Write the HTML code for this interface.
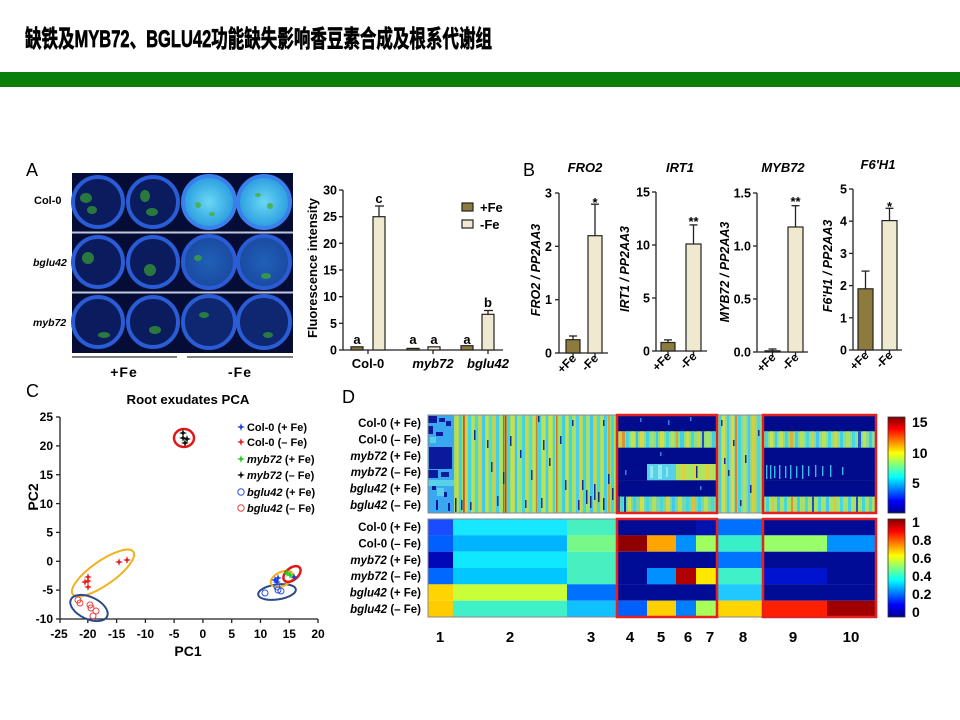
<!DOCTYPE html>
<html><head><meta charset="utf-8"><style>
html,body{margin:0;padding:0;background:#fff;}
body{width:960px;height:720px;overflow:hidden;}
svg{display:block;}
text{font-family:"Liberation Sans","Noto Sans CJK SC",sans-serif;}
.b{font-weight:bold;}
.bi{font-weight:bold;font-style:italic;}
</style></head><body>
<svg width="960" height="720" viewBox="0 0 960 720" xmlns="http://www.w3.org/2000/svg">
<defs>
<linearGradient id="jet" x1="0" y1="1" x2="0" y2="0">
<stop offset="0" stop-color="#00008f"/><stop offset="0.125" stop-color="#0000ff"/><stop offset="0.375" stop-color="#00ffff"/><stop offset="0.625" stop-color="#ffff00"/><stop offset="0.875" stop-color="#ff0000"/><stop offset="1" stop-color="#800000"/>
</linearGradient>
<radialGradient id="bright" cx="0.5" cy="0.5" r="0.5"><stop offset="0" stop-color="#6ad8f4"/><stop offset="1" stop-color="#2a9ce0"/></radialGradient>
<radialGradient id="mid" cx="0.5" cy="0.5" r="0.5"><stop offset="0" stop-color="#2060b8"/><stop offset="1" stop-color="#1a4aa0"/></radialGradient>
</defs>
<rect width="960" height="720" fill="#fff"/>
<!-- Title -->
<text x="25" y="47" font-size="24" font-weight="bold" stroke="#000" stroke-width="0.7" textLength="467" lengthAdjust="spacingAndGlyphs" fill="#000">缺铁及MYB72、BGLU42功能缺失影响香豆素合成及根系代谢组</text>
<rect x="0" y="72" width="960" height="15" fill="#0b7f0b"/>

<!-- Panel A photo -->
<text x="26" y="176" font-size="18" fill="#000">A</text>
<rect x="72" y="173" width="221" height="180" fill="#050d36"/>
<g stroke="#2a5cd6" stroke-width="4">
<circle cx="98" cy="202" r="25" fill="#0b1c5e"/><circle cx="153" cy="202" r="25" fill="#0b1c5e"/>
<circle cx="209" cy="202" r="26" fill="url(#bright)" stroke="#3a80ec"/><circle cx="264" cy="202" r="26" fill="url(#bright)" stroke="#3a80ec"/>
<circle cx="98" cy="262" r="25" fill="#0b1c5e"/><circle cx="153" cy="262" r="25" fill="#0b1c5e"/>
<circle cx="209" cy="262" r="26" fill="url(#mid)"/><circle cx="264" cy="262" r="26" fill="url(#mid)"/>
<circle cx="98" cy="322" r="25" fill="#0b1c5e"/><circle cx="153" cy="322" r="25" fill="#0b1c5e"/>
<circle cx="209" cy="322" r="26" fill="#0f2670"/><circle cx="264" cy="322" r="26" fill="#0f2670"/>
</g>
<g fill="#2f8a3a" opacity="0.85">
<ellipse cx="86" cy="198" rx="6" ry="5"/><ellipse cx="92" cy="210" rx="5" ry="4"/><ellipse cx="145" cy="196" rx="5" ry="6"/><ellipse cx="152" cy="212" rx="6" ry="4"/>
<ellipse cx="198" cy="205" rx="3" ry="3" fill="#4ab040"/><ellipse cx="212" cy="214" rx="3" ry="2" fill="#4ab040"/><ellipse cx="258" cy="195" rx="3" ry="2" fill="#4ab040"/><ellipse cx="270" cy="206" rx="3" ry="3" fill="#4ab040"/>
<ellipse cx="88" cy="258" rx="6" ry="6"/><ellipse cx="150" cy="270" rx="6" ry="6"/><ellipse cx="198" cy="258" rx="4" ry="3" fill="#3aa040"/><ellipse cx="266" cy="276" rx="5" ry="3" fill="#3aa040"/>
<ellipse cx="104" cy="335" rx="6" ry="3"/><ellipse cx="155" cy="330" rx="6" ry="4"/><ellipse cx="204" cy="315" rx="5" ry="3"/><ellipse cx="268" cy="335" rx="5" ry="3"/>
</g>
<rect x="72" y="231.5" width="221" height="2" fill="#c0c8d8"/>
<rect x="72" y="291.5" width="221" height="2" fill="#c0c8d8"/>
<text x="34" y="204" class="b" font-size="11">Col-0</text>
<text x="33" y="266" class="bi" font-size="10.5">bglu42</text>
<text x="33" y="326" class="bi" font-size="10.5">myb72</text>
<line x1="72" y1="357" x2="177" y2="357" stroke="#555" stroke-width="1.5"/>
<line x1="187" y1="357" x2="293" y2="357" stroke="#555" stroke-width="1.5"/>
<text x="124" y="377" class="b" font-size="14" text-anchor="middle" letter-spacing="1">+Fe</text>
<text x="240" y="377" class="b" font-size="14" text-anchor="middle" letter-spacing="1">-Fe</text>

<!-- Panel A bar chart -->
<g stroke="#222" stroke-width="1.3" fill="none">
<line x1="343" y1="190" x2="343" y2="350"/><line x1="343" y1="350" x2="503" y2="350"/>
<line x1="339" y1="190" x2="343" y2="190"/><line x1="339" y1="216.7" x2="343" y2="216.7"/><line x1="339" y1="243.3" x2="343" y2="243.3"/><line x1="339" y1="270" x2="343" y2="270"/><line x1="339" y1="296.7" x2="343" y2="296.7"/><line x1="339" y1="323.3" x2="343" y2="323.3"/><line x1="339" y1="350" x2="343" y2="350"/>
<line x1="368" y1="350" x2="368" y2="354"/><line x1="433" y1="350" x2="433" y2="354"/><line x1="488" y1="350" x2="488" y2="354"/>
<line x1="379" y1="216.7" x2="379" y2="206"/><line x1="375" y1="206" x2="384" y2="206"/>
<line x1="488" y1="314.3" x2="488" y2="310.5"/><line x1="484" y1="310.5" x2="493" y2="310.5"/>
</g>
<g stroke="#222" stroke-width="1.2">
<rect x="351" y="346.8" width="12" height="3.2" fill="#8c7b3c"/>
<rect x="373" y="216.7" width="12" height="133.3" fill="#efe9cf"/>
<rect x="407" y="348.4" width="12" height="1.6" fill="#8c7b3c"/>
<rect x="428" y="346.8" width="12" height="3.2" fill="#efe9cf"/>
<rect x="461" y="345.7" width="12" height="4.3" fill="#8c7b3c"/>
<rect x="482" y="314.3" width="12" height="35.7" fill="#efe9cf"/>
<rect x="462" y="203" width="11" height="8" fill="#8c7b3c"/>
<rect x="462" y="220" width="11" height="8" fill="#efe9cf"/>
</g>
<g class="b" font-size="12.5" text-anchor="end">
<text x="337" y="194.5">30</text><text x="337" y="221.2">25</text><text x="337" y="247.8">20</text><text x="337" y="274.5">15</text><text x="337" y="301.2">10</text><text x="337" y="327.8">5</text><text x="337" y="354.5">0</text>
</g>
<text transform="translate(317,268) rotate(-90)" class="b" font-size="13" text-anchor="middle" textLength="140" lengthAdjust="spacingAndGlyphs">Fluorescence intensity</text>
<g class="b" font-size="13" text-anchor="middle">
<text x="357" y="344">a</text><text x="379" y="203">c</text><text x="413" y="344">a</text><text x="434" y="344">a</text><text x="467" y="344">a</text><text x="488" y="307">b</text>
<text x="368" y="368">Col-0</text>
</g>
<text x="433" y="368" class="bi" font-size="13" text-anchor="middle">myb72</text>
<text x="488" y="368" class="bi" font-size="13" text-anchor="middle">bglu42</text>
<text x="480" y="212" class="b" font-size="13">+Fe</text>
<text x="480" y="229" class="b" font-size="13">-Fe</text>

<!-- Panel B -->
<text x="523" y="176" font-size="18">B</text>
<g class="bi" font-size="13" text-anchor="middle">
<text x="585" y="172">FRO2</text><text x="680" y="172">IRT1</text><text x="783" y="172">MYB72</text><text x="878" y="169">F6'H1</text>
</g>
<g class="bi" font-size="12.5" text-anchor="middle">
<text transform="translate(540,270) rotate(-90)">FRO2 / PP2AA3</text>
<text transform="translate(629,269) rotate(-90)">IRT1 / PP2AA3</text>
<text transform="translate(729,272) rotate(-90)">MYB72 / PP2AA3</text>
<text transform="translate(832,266) rotate(-90)">F6'H1 / PP2AA3</text>
</g>
<g stroke="#222" stroke-width="1.3" fill="none">
<line x1="559" y1="193" x2="559" y2="353"/><line x1="559" y1="353" x2="608" y2="353"/>
<line x1="555" y1="193" x2="559" y2="193"/><line x1="555" y1="246.3" x2="559" y2="246.3"/><line x1="555" y1="299.7" x2="559" y2="299.7"/><line x1="555" y1="353" x2="559" y2="353"/>
<line x1="573" y1="353" x2="573" y2="357"/><line x1="595" y1="353" x2="595" y2="357"/>
<line x1="573" y1="339.7" x2="573" y2="336"/><line x1="569" y1="336" x2="577" y2="336"/>
<line x1="595" y1="235.7" x2="595" y2="204.2"/><line x1="591" y1="204.2" x2="599" y2="204.2"/>
<line x1="656" y1="192" x2="656" y2="351"/><line x1="656" y1="351" x2="707" y2="351"/>
<line x1="652" y1="192" x2="656" y2="192"/><line x1="652" y1="245" x2="656" y2="245"/><line x1="652" y1="298" x2="656" y2="298"/><line x1="652" y1="351" x2="656" y2="351"/>
<line x1="668" y1="351" x2="668" y2="355"/><line x1="693.5" y1="351" x2="693.5" y2="355"/>
<line x1="668" y1="342.5" x2="668" y2="339.9"/><line x1="664" y1="339.9" x2="672" y2="339.9"/>
<line x1="693.5" y1="244" x2="693.5" y2="224.9"/><line x1="689.5" y1="224.9" x2="697.5" y2="224.9"/>
<line x1="757" y1="193" x2="757" y2="352"/><line x1="757" y1="352" x2="808" y2="352"/>
<line x1="753" y1="193" x2="757" y2="193"/><line x1="753" y1="246" x2="757" y2="246"/><line x1="753" y1="299" x2="757" y2="299"/><line x1="753" y1="352" x2="757" y2="352"/>
<line x1="772.5" y1="352" x2="772.5" y2="356"/><line x1="795.5" y1="352" x2="795.5" y2="356"/>
<line x1="768.5" y1="349" x2="776.5" y2="349"/><line x1="772.5" y1="349" x2="772.5" y2="351"/>
<line x1="795.5" y1="227" x2="795.5" y2="205.7"/><line x1="791.5" y1="205.7" x2="799.5" y2="205.7"/>
<line x1="853" y1="189" x2="853" y2="350"/><line x1="853" y1="350" x2="902" y2="350"/>
<line x1="849" y1="189" x2="853" y2="189"/><line x1="849" y1="221.2" x2="853" y2="221.2"/><line x1="849" y1="253.4" x2="853" y2="253.4"/><line x1="849" y1="285.6" x2="853" y2="285.6"/><line x1="849" y1="317.8" x2="853" y2="317.8"/><line x1="849" y1="350" x2="853" y2="350"/>
<line x1="865.5" y1="350" x2="865.5" y2="354"/><line x1="889.5" y1="350" x2="889.5" y2="354"/>
<line x1="865.5" y1="288.8" x2="865.5" y2="271.1"/><line x1="861.5" y1="271.1" x2="869.5" y2="271.1"/>
<line x1="889.5" y1="220.6" x2="889.5" y2="208.3"/><line x1="885.5" y1="208.3" x2="893.5" y2="208.3"/>
</g>
<g stroke="#222" stroke-width="1.2">
<rect x="566" y="339.7" width="14" height="13.3" fill="#8c7b3c"/>
<rect x="588" y="235.7" width="14" height="117.3" fill="#efe9cf"/>
<rect x="661" y="342.5" width="14" height="8.5" fill="#8c7b3c"/>
<rect x="686" y="244" width="15" height="107" fill="#efe9cf"/>
<rect x="765" y="350.8" width="15" height="1.2" fill="#8c7b3c"/>
<rect x="788" y="227" width="15" height="125" fill="#efe9cf"/>
<rect x="858" y="288.8" width="15" height="61.2" fill="#8c7b3c"/>
<rect x="882" y="220.6" width="15" height="129.4" fill="#efe9cf"/>
</g>
<g class="b" font-size="12.5" text-anchor="end">
<text x="552" y="197.5">3</text><text x="552" y="250.8">2</text><text x="552" y="304.2">1</text><text x="552" y="357.5">0</text>
<text x="650" y="196.5">15</text><text x="650" y="249.5">10</text><text x="650" y="302.5">5</text><text x="650" y="355.5">0</text>
<text x="751" y="197.5">1.5</text><text x="751" y="250.5">1.0</text><text x="751" y="303.5">0.5</text><text x="751" y="356.5">0.0</text>
<text x="847" y="193.5">5</text><text x="847" y="225.7">4</text><text x="847" y="257.9">3</text><text x="847" y="290.1">2</text><text x="847" y="322.3">1</text><text x="847" y="354.5">0</text>
</g>
<g class="b" font-size="13" text-anchor="middle">
<text x="595" y="207">*</text><text x="693.5" y="226">**</text><text x="795.5" y="206">**</text><text x="889.5" y="211">*</text>
</g>
<g class="b" font-size="12" text-anchor="end">
<text transform="translate(577,359) rotate(-45)">+Fe</text><text transform="translate(599,359) rotate(-45)">-Fe</text>
<text transform="translate(672,357) rotate(-45)">+Fe</text><text transform="translate(697.5,357) rotate(-45)">-Fe</text>
<text transform="translate(776.5,358) rotate(-45)">+Fe</text><text transform="translate(799.5,358) rotate(-45)">-Fe</text>
<text transform="translate(869.5,356) rotate(-45)">+Fe</text><text transform="translate(893.5,356) rotate(-45)">-Fe</text>
</g>

<!-- Panel C -->
<text x="26" y="397" font-size="18">C</text>
<text x="188" y="404" class="b" font-size="13" text-anchor="middle" textLength="123" lengthAdjust="spacingAndGlyphs">Root exudates PCA</text>
<g stroke="#222" stroke-width="1.3" fill="none">
<line x1="60" y1="417" x2="60" y2="619"/><line x1="60" y1="619" x2="318" y2="619"/>
<line x1="56" y1="417" x2="60" y2="417"/><line x1="56" y1="445.9" x2="60" y2="445.9"/><line x1="56" y1="474.7" x2="60" y2="474.7"/><line x1="56" y1="503.6" x2="60" y2="503.6"/><line x1="56" y1="532.4" x2="60" y2="532.4"/><line x1="56" y1="561.3" x2="60" y2="561.3"/><line x1="56" y1="590.1" x2="60" y2="590.1"/><line x1="56" y1="619" x2="60" y2="619"/>
<line x1="60" y1="619" x2="60" y2="623"/><line x1="87.8" y1="619" x2="87.8" y2="623"/><line x1="116.6" y1="619" x2="116.6" y2="623"/><line x1="145.4" y1="619" x2="145.4" y2="623"/><line x1="174.1" y1="619" x2="174.1" y2="623"/><line x1="202.9" y1="619" x2="202.9" y2="623"/><line x1="231.7" y1="619" x2="231.7" y2="623"/><line x1="260.5" y1="619" x2="260.5" y2="623"/><line x1="289.3" y1="619" x2="289.3" y2="623"/><line x1="318" y1="619" x2="318" y2="623"/>
</g>
<g class="b" font-size="12" text-anchor="end">
<text x="53" y="421">25</text><text x="53" y="450">20</text><text x="53" y="479">15</text><text x="53" y="508">10</text><text x="53" y="536.5">5</text><text x="53" y="565.5">0</text><text x="53" y="594">-5</text><text x="53" y="623">-10</text>
</g>
<g class="b" font-size="12" text-anchor="middle">
<text x="59" y="638">-25</text><text x="87.8" y="638">-20</text><text x="116.6" y="638">-15</text><text x="145.4" y="638">-10</text><text x="174.1" y="638">-5</text><text x="202.9" y="638">0</text><text x="231.7" y="638">5</text><text x="260.5" y="638">10</text><text x="289.3" y="638">15</text><text x="318" y="638">20</text>
</g>
<text x="188" y="656" class="b" font-size="14" text-anchor="middle">PC1</text>
<text transform="translate(38,497) rotate(-90)" class="b" font-size="14" text-anchor="middle">PC2</text>
<g fill="none">
<ellipse cx="184" cy="438" rx="10" ry="9" stroke="#e01818" stroke-width="2.5"/>
<ellipse cx="103" cy="573" rx="37" ry="12" transform="rotate(-35 103 573)" stroke="#f2b01c" stroke-width="2"/>
<ellipse cx="89" cy="608" rx="20" ry="11" transform="rotate(25 89 608)" stroke="#2a4a8c" stroke-width="2"/>
<ellipse cx="277" cy="592" rx="19" ry="7.5" transform="rotate(-8 277 592)" stroke="#2a4a8c" stroke-width="2"/>
<ellipse cx="282" cy="579" rx="12" ry="7" transform="rotate(-25 282 579)" stroke="#f2b01c" stroke-width="2"/>
<ellipse cx="292" cy="574" rx="10" ry="6" transform="rotate(-40 292 574)" stroke="#e01818" stroke-width="2.5"/>
</g>
<g fill="#111">
<path d="M179,433 l3,-1 l1,-3 l1,3 l3,1 l-3,1 l-1,3 l-1,-3z"/><path d="M179,438 l3,-1 l1,-3 l1,3 l3,1 l-3,1 l-1,3 l-1,-3z"/><path d="M183,439 l3,-1 l1,-3 l1,3 l3,1 l-3,1 l-1,3 l-1,-3z"/><path d="M181,443 l3,-1 l1,-3 l1,3 l3,1 l-3,1 l-1,3 l-1,-3z"/>
</g>
<g fill="#e82020">
<path d="M84,577 l3,-1 l1,-3 l1,3 l3,1 l-3,1 l-1,3 l-1,-3z"/><path d="M84,581 l3,-1 l1,-3 l1,3 l3,1 l-3,1 l-1,3 l-1,-3z"/><path d="M81,582 l3,-1 l1,-3 l1,3 l3,1 l-3,1 l-1,3 l-1,-3z"/><path d="M84,587 l3,-1 l1,-3 l1,3 l3,1 l-3,1 l-1,3 l-1,-3z"/><path d="M115,562 l3,-1 l1,-3 l1,3 l3,1 l-3,1 l-1,3 l-1,-3z"/><path d="M123,560 l3,-1 l1,-3 l1,3 l3,1 l-3,1 l-1,3 l-1,-3z"/>
</g>
<g fill="none" stroke="#e84040" stroke-width="1">
<circle cx="78" cy="600" r="3"/><circle cx="80" cy="603" r="3"/><circle cx="90" cy="605" r="3"/><circle cx="91" cy="608" r="3"/><circle cx="96" cy="611" r="3"/><circle cx="93" cy="616" r="3"/>
</g>
<g fill="none" stroke="#3050e0" stroke-width="1">
<circle cx="265" cy="593" r="3"/><circle cx="277" cy="587" r="3"/><circle cx="278" cy="590" r="3"/><circle cx="281" cy="591" r="3"/>
</g>
<g fill="#2040e0">
<path d="M271,580 l3,-1 l1,-3 l1,3 l3,1 l-3,1 l-1,3 l-1,-3z"/><path d="M274,578 l3,-1 l1,-3 l1,3 l3,1 l-3,1 l-1,3 l-1,-3z"/><path d="M273,582 l3,-1 l1,-3 l1,3 l3,1 l-3,1 l-1,3 l-1,-3z"/><path d="M290,577 l3,-1 l1,-3 l1,3 l3,1 l-3,1 l-1,3 l-1,-3z"/>
</g>
<g fill="#20d020">
<path d="M283,573 l3,-1 l1,-3 l1,3 l3,1 l-3,1 l-1,3 l-1,-3z"/><path d="M286,575 l3,-1 l1,-3 l1,3 l3,1 l-3,1 l-1,3 l-1,-3z"/>
</g>
<path d="M237,427 l3,-1 l1,-3 l1,3 l3,1 l-3,1 l-1,3 l-1,-3z" fill="#2040e0"/>
<path d="M237,442 l3,-1 l1,-3 l1,3 l3,1 l-3,1 l-1,3 l-1,-3z" fill="#e82020"/>
<path d="M237,459 l3,-1 l1,-3 l1,3 l3,1 l-3,1 l-1,3 l-1,-3z" fill="#20d020"/>
<path d="M237,475 l3,-1 l1,-3 l1,3 l3,1 l-3,1 l-1,3 l-1,-3z" fill="#111"/>
<circle cx="241" cy="492" r="3.2" fill="none" stroke="#3050e0" stroke-width="1"/>
<circle cx="241" cy="508" r="3.2" fill="none" stroke="#e84040" stroke-width="1"/>
<g font-size="11" class="b">
<text x="247" y="431" textLength="60" lengthAdjust="spacingAndGlyphs">Col-0 (+ Fe)</text>
<text x="247" y="446" textLength="60" lengthAdjust="spacingAndGlyphs">Col-0 (– Fe)</text>
<text x="247" y="463"><tspan font-style="italic">myb72</tspan> (+ Fe)</text>
<text x="247" y="479"><tspan font-style="italic">myb72</tspan> (– Fe)</text>
<text x="247" y="496"><tspan font-style="italic">bglu42</tspan> (+ Fe)</text>
<text x="247" y="512"><tspan font-style="italic">bglu42</tspan> (– Fe)</text>
</g>

<!-- Panel D -->
<text x="342" y="403" font-size="18">D</text>
<g font-size="11.5" class="b" text-anchor="end">
<text x="421" y="427.2">Col-0 (+ Fe)</text>
<text x="421" y="443.5">Col-0 (– Fe)</text>
<text x="421" y="459.8"><tspan font-style="italic">myb72</tspan> (+ Fe)</text>
<text x="421" y="476.2"><tspan font-style="italic">myb72</tspan> (– Fe)</text>
<text x="421" y="492.5"><tspan font-style="italic">bglu42</tspan> (+ Fe)</text>
<text x="421" y="508.8"><tspan font-style="italic">bglu42</tspan> (– Fe)</text>
<text x="421" y="531.2">Col-0 (+ Fe)</text>
<text x="421" y="547.5">Col-0 (– Fe)</text>
<text x="421" y="563.8"><tspan font-style="italic">myb72</tspan> (+ Fe)</text>
<text x="421" y="580.2"><tspan font-style="italic">myb72</tspan> (– Fe)</text>
<text x="421" y="596.5"><tspan font-style="italic">bglu42</tspan> (+ Fe)</text>
<text x="421" y="612.8"><tspan font-style="italic">bglu42</tspan> (– Fe)</text>
</g>

<!-- top heatmap -->
<rect x="428" y="415" width="448" height="98" fill="#8fe08c"/>
<rect x="428" y="415" width="26" height="98" fill="#3aa8f0"/>
<g fill="#0a1a9a">
<rect x="428" y="416" width="9" height="7"/><rect x="439" y="418" width="6" height="4"/><rect x="446" y="421" width="5" height="5"/>
<rect x="428" y="426" width="5" height="8"/><rect x="436" y="432" width="7" height="4"/>
<rect x="429" y="447" width="23" height="22"/><rect x="428" y="470" width="10" height="8"/><rect x="441" y="472" width="8" height="5"/>
<rect x="432" y="486" width="4" height="4"/><rect x="444" y="492" width="3" height="5"/><rect x="436" y="500" width="2" height="10"/><rect x="448" y="503" width="2" height="8"/>
</g>
<g fill="#58d0e8"><rect x="428" y="480" width="26" height="6"/><rect x="437" y="488" width="7" height="8"/><rect x="430" y="437" width="6" height="6"/></g>
<rect x="454" y="415" width="163" height="98" fill="#a6dc6a"/>
<g>
<rect x="456" y="415" width="2" height="98" fill="#c8d848"/><rect x="459" y="415" width="3" height="98" fill="#48d0e0"/><rect x="463" y="415" width="1.8" height="98" fill="#d85018"/>
<rect x="465" y="415" width="2.5" height="98" fill="#d0d048"/><rect x="468" y="415" width="3" height="98" fill="#40d8e0"/><rect x="472" y="415" width="2" height="98" fill="#b8e058"/>
<rect x="475" y="415" width="3" height="98" fill="#50d8d0"/><rect x="479" y="415" width="2" height="98" fill="#d8d040"/><rect x="482" y="415" width="3" height="98" fill="#40c8f0"/>
<rect x="486" y="415" width="2" height="98" fill="#c0e050"/><rect x="489" y="415" width="3" height="98" fill="#48e0d8"/><rect x="493" y="415" width="2" height="98" fill="#d8c840"/>
<rect x="496" y="415" width="3" height="98" fill="#40d0e8"/><rect x="500" y="415" width="2" height="98" fill="#b0e060"/><rect x="503" y="415" width="1.5" height="98" fill="#d06020"/>
<rect x="505" y="415" width="1.5" height="98" fill="#c84018"/><rect x="507" y="415" width="3" height="98" fill="#40d8e0"/><rect x="511" y="415" width="3" height="98" fill="#d0dc48"/>
<rect x="515" y="415" width="2" height="98" fill="#40c8f0"/><rect x="518" y="415" width="3" height="98" fill="#a0e070"/><rect x="522" y="415" width="3" height="98" fill="#40d8e0"/>
<rect x="526" y="415" width="2" height="98" fill="#d8d040"/><rect x="529" y="415" width="3" height="98" fill="#48e0e0"/><rect x="533" y="415" width="2" height="98" fill="#c8e050"/>
<rect x="536" y="415" width="1.5" height="98" fill="#d08030"/><rect x="538" y="415" width="3" height="98" fill="#40d8e0"/><rect x="542" y="415" width="3" height="98" fill="#c0e050"/>
<rect x="546" y="415" width="2" height="98" fill="#40d0f0"/><rect x="549" y="415" width="3" height="98" fill="#d0e040"/><rect x="553" y="415" width="2" height="98" fill="#40e0d0"/>
<rect x="556" y="415" width="1.5" height="98" fill="#e07020"/><rect x="558" y="415" width="3" height="98" fill="#a0e070"/><rect x="562" y="415" width="3" height="98" fill="#40d0e0"/>
<rect x="566" y="415" width="2" height="98" fill="#c8e050"/><rect x="569" y="415" width="3" height="98" fill="#40d8e0"/><rect x="573" y="415" width="2" height="98" fill="#b0e060"/>
<rect x="576" y="415" width="3" height="98" fill="#48d0f0"/><rect x="580" y="415" width="2" height="98" fill="#d8d048"/><rect x="583" y="415" width="3" height="98" fill="#40d8e0"/>
<rect x="587" y="415" width="2" height="98" fill="#a8e070"/><rect x="590" y="415" width="3" height="98" fill="#40c8f0"/><rect x="594" y="415" width="2" height="98" fill="#d0d040"/>
<rect x="597" y="415" width="3" height="98" fill="#48d8e0"/><rect x="601" y="415" width="2" height="98" fill="#c0e050"/><rect x="604" y="415" width="3" height="98" fill="#40d0e8"/>
<rect x="608" y="415" width="2" height="98" fill="#e0a030"/><rect x="611" y="415" width="3" height="98" fill="#40d8e0"/><rect x="614" y="415" width="2" height="98" fill="#b0e060"/>
</g>
<g fill="#1a2a8a">
<rect x="474" y="430" width="1.5" height="10"/><rect x="487" y="440" width="1.5" height="8"/><rect x="491" y="462" width="1.5" height="10"/><rect x="503" y="472" width="1.5" height="12"/>
<rect x="510" y="436" width="1.5" height="10"/><rect x="520" y="450" width="1.5" height="8"/><rect x="531" y="470" width="1.5" height="10"/><rect x="543" y="440" width="1.5" height="10"/>
<rect x="549" y="458" width="1.5" height="8"/><rect x="560" y="436" width="1.5" height="8"/><rect x="455" y="498" width="1.5" height="14"/><rect x="461" y="500" width="1.5" height="10"/>
<rect x="470" y="502" width="1.5" height="8"/><rect x="582" y="480" width="1.5" height="10"/><rect x="586" y="490" width="1.5" height="14"/><rect x="590" y="496" width="1.5" height="12"/>
<rect x="594" y="484" width="1.5" height="16"/><rect x="598" y="492" width="1.5" height="10"/><rect x="603" y="498" width="1.5" height="12"/><rect x="608" y="474" width="1.5" height="10"/>
<rect x="612" y="488" width="1.5" height="12"/><rect x="578" y="500" width="1.5" height="10"/><rect x="497" y="496" width="1.5" height="10"/><rect x="525" y="500" width="1.5" height="8"/>
<rect x="541" y="498" width="1.5" height="10"/><rect x="565" y="480" width="1.5" height="10"/><rect x="538" y="416" width="1.5" height="6"/><rect x="572" y="420" width="1.5" height="6"/><rect x="603" y="420" width="1.5" height="6"/>
</g>
<rect x="617" y="415" width="100" height="16.5" fill="#000c8c"/>
<rect x="617" y="431.3" width="100" height="16.4" fill="#90e080"/>
<g>
<rect x="619" y="431.3" width="2" height="16.4" fill="#d0d040"/><rect x="622" y="431.3" width="3" height="16.4" fill="#e09030"/><rect x="626" y="431.3" width="3" height="16.4" fill="#40d8e0"/>
<rect x="631" y="431.3" width="4" height="16.4" fill="#c8e050"/><rect x="636" y="431.3" width="2" height="16.4" fill="#30c0f0"/><rect x="640" y="431.3" width="4" height="16.4" fill="#d8d848"/>
<rect x="646" y="431.3" width="3" height="16.4" fill="#40d0e8"/><rect x="651" y="431.3" width="3" height="16.4" fill="#a8e068"/><rect x="656" y="431.3" width="2" height="16.4" fill="#40c8f0"/>
<rect x="660" y="431.3" width="4" height="16.4" fill="#d0e048"/><rect x="666" y="431.3" width="3" height="16.4" fill="#48d8d8"/><rect x="671" y="431.3" width="3" height="16.4" fill="#b8e058"/>
<rect x="676" y="431.3" width="2" height="16.4" fill="#e0a030"/><rect x="680" y="431.3" width="4" height="16.4" fill="#40d0e8"/><rect x="686" y="431.3" width="3" height="16.4" fill="#c8e050"/>
<rect x="691" y="431.3" width="3" height="16.4" fill="#40d8e0"/><rect x="697" y="431.3" width="3" height="16.4" fill="#d8d040"/><rect x="702" y="431.3" width="2" height="16.4" fill="#2050c0"/>
<rect x="706" y="431.3" width="4" height="16.4" fill="#a8e070"/><rect x="712" y="431.3" width="3" height="16.4" fill="#40d0e0"/>
</g>
<rect x="617" y="447.7" width="100" height="16.4" fill="#000c8c"/>
<rect x="617" y="464" width="30" height="16.4" fill="#000c8c"/>
<rect x="647" y="464" width="29" height="16.4" fill="#58d0e8"/>
<rect x="676" y="464" width="41" height="16.4" fill="#b0e460"/>
<g fill="#90e8f0"><rect x="650" y="466" width="3" height="12"/><rect x="658" y="465" width="4" height="14"/><rect x="666" y="467" width="2" height="10"/></g>
<g fill="#e0d040"><rect x="682" y="464" width="3" height="16"/><rect x="694" y="464" width="2" height="16"/><rect x="706" y="464" width="3" height="16"/></g>
<rect x="696" y="466" width="1.5" height="12" fill="#1a2a8a"/>
<rect x="617" y="480.3" width="100" height="16.4" fill="#000c8c"/>
<rect x="617" y="496.7" width="100" height="16.3" fill="#78d8a8"/>
<g>
<rect x="617" y="496.7" width="3" height="16.3" fill="#2050c0"/><rect x="621" y="496.7" width="2" height="16.3" fill="#40d8e0"/><rect x="624" y="496.7" width="2" height="16.3" fill="#1030a0"/>
<rect x="628" y="496.7" width="3" height="16.3" fill="#c8e050"/><rect x="633" y="496.7" width="3" height="16.3" fill="#40d0e8"/><rect x="640" y="496.7" width="4" height="16.3" fill="#d0e048"/>
<rect x="646" y="496.7" width="3" height="16.3" fill="#40d8e0"/><rect x="652" y="496.7" width="4" height="16.3" fill="#b0e060"/><rect x="660" y="496.7" width="3" height="16.3" fill="#48d8d8"/>
<rect x="666" y="496.7" width="4" height="16.3" fill="#d0d848"/><rect x="672" y="496.7" width="3" height="16.3" fill="#40c8f0"/><rect x="678" y="496.7" width="4" height="16.3" fill="#c0e050"/>
<rect x="686" y="496.7" width="3" height="16.3" fill="#40d8e0"/><rect x="692" y="496.7" width="3" height="16.3" fill="#e0c040"/><rect x="698" y="496.7" width="3" height="16.3" fill="#40d0e8"/>
<rect x="704" y="496.7" width="4" height="16.3" fill="#b8e058"/><rect x="711" y="496.7" width="3" height="16.3" fill="#48d8d8"/>
</g>
<g fill="#3a80e0"><rect x="640" y="418" width="1.5" height="4"/><rect x="668" y="420" width="1.5" height="5"/><rect x="690" y="417" width="1.5" height="4"/><rect x="625" y="470" width="1.5" height="5"/><rect x="660" y="452" width="1.5" height="4"/><rect x="700" y="486" width="1.5" height="4"/></g>
<rect x="717" y="415" width="46" height="98" fill="#90d898"/>
<g>
<rect x="719" y="415" width="2" height="98" fill="#40d0e8"/><rect x="722" y="415" width="3" height="98" fill="#c8e050"/><rect x="727" y="415" width="2" height="98" fill="#40c8f0"/>
<rect x="731" y="415" width="3" height="98" fill="#d8d848"/><rect x="735" y="415" width="2" height="98" fill="#e08030"/><rect x="738" y="415" width="3" height="98" fill="#40d8e0"/>
<rect x="743" y="415" width="3" height="98" fill="#b0e060"/><rect x="748" y="415" width="2" height="98" fill="#40c8f0"/><rect x="752" y="415" width="3" height="98" fill="#d0d040"/><rect x="757" y="415" width="3" height="98" fill="#48d8e0"/>
</g>
<g fill="#1a2a8a"><rect x="721" y="420" width="1.5" height="6"/><rect x="733" y="440" width="1.5" height="6"/><rect x="745" y="455" width="1.5" height="8"/><rect x="728" y="470" width="1.5" height="6"/><rect x="750" y="485" width="1.5" height="8"/><rect x="740" y="500" width="1.5" height="6"/><rect x="758" y="430" width="1.5" height="6"/><rect x="724" y="458" width="1.5" height="6"/></g>
<rect x="763" y="415" width="113" height="16.5" fill="#000c8c"/>
<rect x="763" y="431.3" width="113" height="16.4" fill="#88e098"/>
<g>
<rect x="765" y="431.3" width="3" height="16.4" fill="#40d8e0"/><rect x="770" y="431.3" width="3" height="16.4" fill="#d0e048"/><rect x="775" y="431.3" width="2" height="16.4" fill="#40c8f0"/>
<rect x="779" y="431.3" width="4" height="16.4" fill="#c8e050"/><rect x="785" y="431.3" width="3" height="16.4" fill="#40d8e0"/><rect x="790" y="431.3" width="3" height="16.4" fill="#e0b030"/>
<rect x="795" y="431.3" width="3" height="16.4" fill="#40d0e8"/><rect x="800" y="431.3" width="4" height="16.4" fill="#b8e058"/><rect x="806" y="431.3" width="3" height="16.4" fill="#48d8d8"/>
<rect x="811" y="431.3" width="3" height="16.4" fill="#d8d040"/><rect x="816" y="431.3" width="3" height="16.4" fill="#40c8f0"/><rect x="822" y="431.3" width="4" height="16.4" fill="#c0e050"/>
<rect x="828" y="431.3" width="3" height="16.4" fill="#40d8e0"/><rect x="834" y="431.3" width="3" height="16.4" fill="#d0d848"/><rect x="840" y="431.3" width="3" height="16.4" fill="#40d0e8"/>
<rect x="846" y="431.3" width="4" height="16.4" fill="#b0e060"/><rect x="852" y="431.3" width="3" height="16.4" fill="#48d8e0"/><rect x="858" y="431.3" width="3" height="16.4" fill="#2858c8"/>
<rect x="863" y="431.3" width="3" height="16.4" fill="#c8e050"/><rect x="869" y="431.3" width="3" height="16.4" fill="#40c8f0"/>
</g>
<rect x="763" y="447.7" width="113" height="16.4" fill="#000c8c"/>
<rect x="763" y="464" width="113" height="16.4" fill="#000c8c"/>
<g fill="#38b8ec">
<rect x="766" y="465" width="1.4" height="14"/><rect x="770" y="465" width="1.4" height="14"/><rect x="774" y="466" width="1.4" height="12"/><rect x="779" y="465" width="1.4" height="14"/>
<rect x="785" y="466" width="1.4" height="12"/><rect x="790" y="465" width="1.4" height="14"/><rect x="796" y="466" width="1.4" height="12"/><rect x="802" y="465" width="1.4" height="14"/>
<rect x="808" y="466" width="1.4" height="10"/><rect x="815" y="465" width="1.4" height="12"/><rect x="822" y="466" width="1.4" height="10"/><rect x="830" y="465" width="1.4" height="12"/><rect x="842" y="467" width="1.4" height="8"/>
</g>
<rect x="763" y="480.3" width="113" height="16.4" fill="#000c8c"/>
<rect x="763" y="496.7" width="113" height="16.3" fill="#a8e068"/>
<g>
<rect x="766" y="496.7" width="3" height="16.3" fill="#40d8e0"/><rect x="772" y="496.7" width="2" height="16.3" fill="#d8c840"/><rect x="777" y="496.7" width="3" height="16.3" fill="#40c8f0"/>
<rect x="784" y="496.7" width="3" height="16.3" fill="#48d8d8"/><rect x="791" y="496.7" width="2" height="16.3" fill="#e09030"/><rect x="797" y="496.7" width="3" height="16.3" fill="#40d0e8"/>
<rect x="805" y="496.7" width="3" height="16.3" fill="#48d8d8"/><rect x="812" y="496.7" width="2" height="16.3" fill="#2050c0"/><rect x="818" y="496.7" width="3" height="16.3" fill="#40d8e0"/>
<rect x="826" y="496.7" width="3" height="16.3" fill="#40c8f0"/><rect x="834" y="496.7" width="2" height="16.3" fill="#d8c840"/><rect x="840" y="496.7" width="3" height="16.3" fill="#48d8e0"/>
<rect x="848" y="496.7" width="3" height="16.3" fill="#40d0e8"/><rect x="856" y="496.7" width="2" height="16.3" fill="#2050c0"/><rect x="862" y="496.7" width="3" height="16.3" fill="#40d8e0"/><rect x="869" y="496.7" width="3" height="16.3" fill="#48d8d8"/>
</g>
<rect x="428" y="415" width="448" height="98" fill="none" stroke="#888" stroke-width="1"/>

<!-- bottom heatmap -->
<g>
<rect x="428" y="519" width="25" height="16.4" fill="#1a4cff"/><rect x="453" y="519" width="114" height="16.4" fill="#18e8ff"/><rect x="567" y="519" width="50" height="16.4" fill="#48f0c0"/>
<rect x="617" y="519" width="100" height="16.4" fill="#000c96"/><rect x="696" y="519" width="21" height="16.4" fill="#0012b0"/><rect x="717" y="519" width="46" height="16.4" fill="#0070ff"/><rect x="763" y="519" width="113" height="16.4" fill="#000c96"/>
<rect x="428" y="535.3" width="25" height="16.4" fill="#0060ff"/><rect x="453" y="535.3" width="114" height="16.4" fill="#00b4ff"/><rect x="567" y="535.3" width="50" height="16.4" fill="#78f888"/>
<rect x="617" y="535.3" width="30" height="16.4" fill="#900000"/><rect x="647" y="535.3" width="29" height="16.4" fill="#ffa400"/><rect x="676" y="535.3" width="20" height="16.4" fill="#0090ff"/><rect x="696" y="535.3" width="21" height="16.4" fill="#a0ff60"/>
<rect x="717" y="535.3" width="46" height="16.4" fill="#38f0c8"/><rect x="763" y="535.3" width="64" height="16.4" fill="#98ff68"/><rect x="827" y="535.3" width="49" height="16.4" fill="#0090ff"/>
<rect x="428" y="551.7" width="25" height="16.4" fill="#0008b8"/><rect x="453" y="551.7" width="114" height="16.4" fill="#10e8ff"/><rect x="567" y="551.7" width="50" height="16.4" fill="#48f0c0"/>
<rect x="617" y="551.7" width="100" height="16.4" fill="#000c96"/><rect x="717" y="551.7" width="46" height="16.4" fill="#0074ff"/><rect x="763" y="551.7" width="113" height="16.4" fill="#000c96"/>
<rect x="428" y="568" width="25" height="16.4" fill="#0068ff"/><rect x="453" y="568" width="114" height="16.4" fill="#00c8ff"/><rect x="567" y="568" width="50" height="16.4" fill="#48f0c0"/>
<rect x="617" y="568" width="30" height="16.4" fill="#000c96"/><rect x="647" y="568" width="29" height="16.4" fill="#0090ff"/><rect x="676" y="568" width="20" height="16.4" fill="#b00000"/><rect x="696" y="568" width="21" height="16.4" fill="#ffe800"/>
<rect x="717" y="568" width="46" height="16.4" fill="#40f0c8"/><rect x="763" y="568" width="64" height="16.4" fill="#0014d0"/><rect x="827" y="568" width="49" height="16.4" fill="#000c96"/>
<rect x="428" y="584.3" width="25" height="16.4" fill="#ffd400"/><rect x="453" y="584.3" width="114" height="16.4" fill="#c8ff38"/><rect x="567" y="584.3" width="50" height="16.4" fill="#0070ff"/>
<rect x="617" y="584.3" width="100" height="16.4" fill="#000c96"/><rect x="717" y="584.3" width="46" height="16.4" fill="#20c8ff"/><rect x="763" y="584.3" width="113" height="16.4" fill="#000c96"/>
<rect x="428" y="600.7" width="25" height="16.3" fill="#ffcc00"/><rect x="453" y="600.7" width="114" height="16.3" fill="#40f0c8"/><rect x="567" y="600.7" width="50" height="16.3" fill="#10c0ff"/>
<rect x="617" y="600.7" width="30" height="16.3" fill="#0060ff"/><rect x="647" y="600.7" width="29" height="16.3" fill="#ffd000"/><rect x="676" y="600.7" width="20" height="16.3" fill="#0080ff"/><rect x="696" y="600.7" width="21" height="16.3" fill="#a8ff58"/>
<rect x="717" y="600.7" width="46" height="16.3" fill="#ffd400"/><rect x="763" y="600.7" width="64" height="16.3" fill="#ff2000"/><rect x="827" y="600.7" width="49" height="16.3" fill="#a00000"/>
</g>
<rect x="428" y="519" width="448" height="98" fill="none" stroke="#888" stroke-width="1"/>
<g fill="none" stroke="#e42020" stroke-width="2.5">
<rect x="617" y="415" width="100" height="98"/><rect x="617" y="519" width="100" height="98"/>
<rect x="763" y="415" width="113" height="98"/><rect x="763" y="519" width="113" height="98"/>
</g>
<rect x="888" y="417" width="17" height="96" fill="url(#jet)" stroke="#333" stroke-width="0.8"/>
<rect x="888" y="519" width="17" height="98" fill="url(#jet)" stroke="#333" stroke-width="0.8"/>
<g class="b" font-size="14">
<text x="912" y="427">15</text><text x="912" y="458">10</text><text x="912" y="488">5</text>
<text x="912" y="527">1</text><text x="912" y="545">0.8</text><text x="912" y="563">0.6</text><text x="912" y="581">0.4</text><text x="912" y="599">0.2</text><text x="912" y="617">0</text>
</g>
<g class="b" font-size="15" text-anchor="middle">
<text x="440" y="642">1</text><text x="510" y="642">2</text><text x="591" y="642">3</text><text x="630" y="642">4</text><text x="661" y="642">5</text><text x="688" y="642">6</text><text x="710" y="642">7</text><text x="743" y="642">8</text><text x="793" y="642">9</text><text x="851" y="642">10</text>
</g>
</svg>
</body></html>
